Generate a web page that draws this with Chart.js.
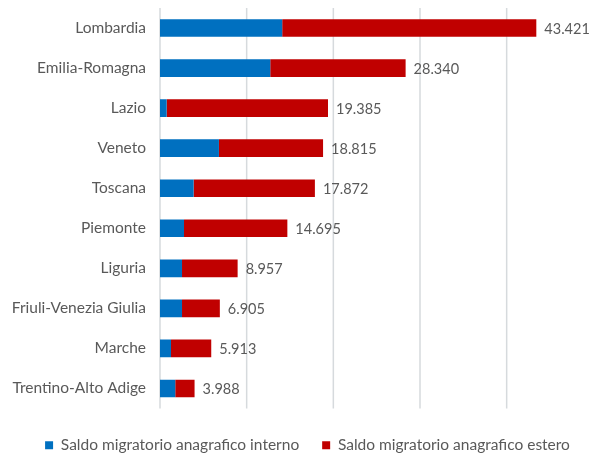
<!DOCTYPE html>
<html>
<head>
<meta charset="utf-8">
<script src="https://cdn.jsdelivr.net/npm/chart.js@4.4.0/dist/chart.umd.min.js"></script>
<style>
  html, body { margin: 0; padding: 0; background: #fff; }
  #wrap { width: 589px; height: 454px; position: relative; }
</style>
</head>
<body>
<div id="wrap"><canvas id="chart"></canvas></div>
<script>
const regioni = ['Lombardia', 'Emilia-Romagna', 'Lazio', 'Veneto', 'Toscana',
    'Piemonte', 'Liguria', 'Friuli-Venezia Giulia', 'Marche', 'Trentino-Alto Adige'];
// saldo interno e saldo estero = totale - interno
const saldoInterno = [14100, 12720, 770, 6800, 3880, 2770, 2540, 2540, 1270, 1760];
const saldoEstero = [29321, 15620, 18615, 12015, 13992, 11925, 6417, 4365, 4643, 2228];
const serie = ['Saldo migratorio anagrafico interno', 'Saldo migratorio anagrafico estero'];
const passoGriglia = 10000;

const testo = '#595959';
const font = 'Lato, "Liberation Sans", sans-serif';

const fmt = v => {
    const s = String(Math.round(v));
    return s.replace(/\B(?=(\d{3})+(?!\d))/g, '.');
};

// linee verticali della griglia ogni 10.000, dalla scala x
const griglia = {
    id: 'griglia',
    beforeDatasetsDraw(chart) {
        const ctx = chart.ctx;
        const x = chart.scales.x;
        const area = chart.chartArea;
        ctx.save();
        ctx.strokeStyle = '#D6DADD';
        ctx.lineWidth = 1.5;
        for (let v = 0; v < x.max; v += passoGriglia) {
            const px = x.getPixelForValue(v);
            ctx.beginPath();
            ctx.moveTo(px, area.top);
            ctx.lineTo(px, area.bottom);
            ctx.stroke();
        }
        ctx.restore();
    }
};

// etichette dei totali alla fine di ogni barra
const totali = {
    id: 'totali',
    afterDatasetsDraw(chart) {
        const ctx = chart.ctx;
        const x = chart.scales.x;
        const y = chart.scales.y;
        ctx.save();
        ctx.font = '14.5px ' + font;
        ctx.fillStyle = testo;
        ctx.textBaseline = 'middle';
        ctx.textAlign = 'left';
        regioni.forEach((r, i) => {
            const tot = saldoInterno[i] + saldoEstero[i];
            ctx.fillText(fmt(tot), x.getPixelForValue(tot) + 8, y.getPixelForValue(i) + 1);
        });
        ctx.restore();
    }
};

new Chart(document.getElementById('chart').getContext('2d'), {
    type: 'bar',
    data: {
        labels: regioni,
        datasets: [
            {
                label: serie[0],
                data: saldoInterno,
                backgroundColor: '#0070C0',
                barPercentage: 0.44,
                categoryPercentage: 1,
            },
            {
                label: serie[1],
                data: saldoEstero,
                backgroundColor: '#C00000',
                barPercentage: 0.44,
                categoryPercentage: 1,
            },
        ]
    },
    options: {
        indexAxis: 'y',
        responsive: true,
        maintainAspectRatio: false,
        animation: false,
        layout: {
            // padding destro negativo: sposta la legenda verso destra
            padding: {top: 8, left: 0, right: -26, bottom: -9}
        },
        scales: {
            x: {
                stacked: true,
                min: 0,
                max: 49500,
                ticks: {display: false, stepSize: passoGriglia},
                afterFit: axis => { axis.height = 6; },
                grid: {display: false},
                border: {display: false},
            },
            y: {
                stacked: true,
                afterFit: axis => {
                    axis.width = 160;
                    axis.paddingTop = 0;
                    axis.paddingBottom = 0;
                },
                ticks: {
                    color: testo,
                    padding: 14,
                    font: {family: font, size: 15.5},
                },
                grid: {display: false, drawTicks: false},
                border: {display: false},
            }
        },
        plugins: {
            legend: {
                position: 'bottom',
                labels: {
                    color: testo,
                    font: {family: font, size: 15.5},
                    boxWidth: 8,
                    boxHeight: 8,
                    padding: 23,
                }
            },
            tooltip: {enabled: false},
        }
    },
    plugins: [griglia, totali]
});
</script>
</body>
</html>
